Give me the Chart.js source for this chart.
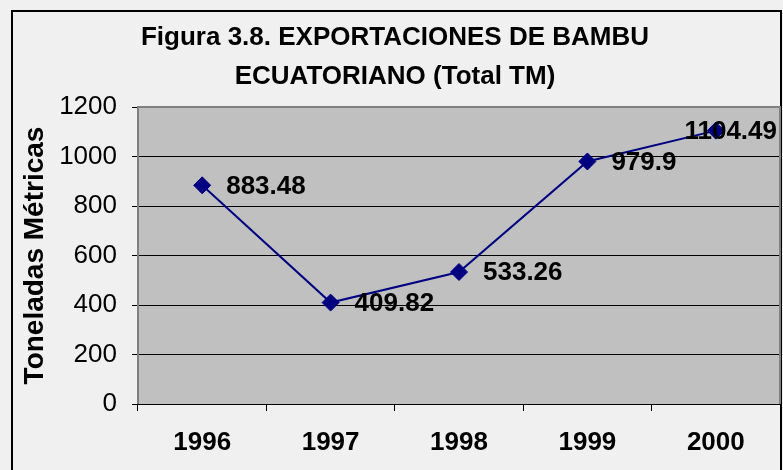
<!DOCTYPE html>
<html>
<head>
<meta charset="utf-8">
<script src="https://cdn.jsdelivr.net/npm/chart.js@4/dist/chart.umd.min.js"></script>
<style>
  html, body { margin: 0; padding: 0; background: #F0F0F0; }
  #wrap { width: 783px; height: 470px; position: relative; }
</style>
</head>
<body>
<div id="wrap"><canvas id="c" width="783" height="470"></canvas></div>
<script>
const titleLines = ['Figura 3.8. EXPORTACIONES DE BAMBU', 'ECUATORIANO (Total TM)'];
const yAxisTitle = 'Toneladas Métricas';
const years = ['1996', '1997', '1998', '1999', '2000'];
const exportsTM = [883.48, 409.82, 533.26, 979.9, 1104.49];
const yTicks = [0, 200, 400, 600, 800, 1000, 1200];

const FONT = "'Liberation Sans', Arial, sans-serif";

const bgPlugin = {
  id: 'bg',
  beforeDraw(chart) {
    const ctx = chart.ctx, a = chart.chartArea;
    ctx.save();
    ctx.fillStyle = '#F0F0F0';
    ctx.fillRect(0, 0, chart.width, chart.height);
    ctx.strokeStyle = '#000';
    ctx.lineWidth = 2;
    ctx.strokeRect(12, 11, 769, 480);
    ctx.fillStyle = '#C0C0C0';
    ctx.fillRect(a.left, a.top, a.right - a.left, a.bottom - a.top);
    ctx.restore();
  },
  beforeDatasetsDraw(chart) {
    const ctx = chart.ctx, a = chart.chartArea;
    ctx.save();
    ctx.strokeStyle = '#808080';
    ctx.lineWidth = 2;
    ctx.beginPath();
    ctx.moveTo(a.left, a.bottom);
    ctx.lineTo(a.left, a.top);
    ctx.lineTo(a.right, a.top);
    ctx.lineTo(a.right, a.bottom);
    ctx.stroke();
    ctx.strokeStyle = '#000';
    ctx.lineWidth = 1;
    ctx.beginPath();
    ctx.moveTo(a.left - 6, Math.round(a.bottom) + 0.5);
    ctx.lineTo(a.right + 1, Math.round(a.bottom) + 0.5);
    ctx.stroke();
    ctx.restore();
  }
};

const labelPlugin = {
  id: 'pointLabels',
  afterDatasetsDraw(chart) {
    const ctx = chart.ctx, a = chart.chartArea;
    const meta = chart.getDatasetMeta(0);
    ctx.save();
    ctx.font = 'bold 26px ' + FONT;
    ctx.fillStyle = '#000';
    ctx.textBaseline = 'middle';
    ctx.textAlign = 'left';
    meta.data.forEach((pt, i) => {
      const txt = String(exportsTM[i]);
      const w = ctx.measureText(txt).width;
      let x = pt.x + 24;
      if (x + w > a.right - 3) x = a.right - 3 - w;
      ctx.fillText(txt, x, pt.y + 1);
    });
    ctx.restore();
  }
};

new Chart(document.getElementById('c'), {
  type: 'line',
  data: {
    labels: years,
    datasets: [{
      data: exportsTM,
      borderColor: '#000080',
      backgroundColor: '#000080',
      borderWidth: 2,
      pointStyle: 'rectRot',
      pointRadius: 8.5,
      pointHoverRadius: 8.5,
      pointBorderWidth: 1,
      pointBorderColor: '#000080',
      pointBackgroundColor: '#000080',
      tension: 0,
      fill: false,
      clip: false
    }]
  },
  options: {
    responsive: false,
    animation: false,
    devicePixelRatio: 1,
    events: [],
    layout: { autoPadding: false, padding: { top: 0, right: 3, left: 10, bottom: 0 } },
    plugins: {
      legend: { display: false },
      tooltip: { enabled: false },
      title: {
        display: true,
        text: titleLines,
        color: '#000',
        font: { family: FONT, size: 26, weight: 'bold', lineHeight: 1.5 },
        padding: { top: 18, bottom: 11 }
      }
    },
    scales: {
      x: {
        type: 'category',
        offset: true,
        grid: { offset: true, drawOnChartArea: false, drawTicks: true, tickLength: 7, color: '#000' },
        border: { display: false },
        ticks: { color: '#000', padding: 16, font: { family: FONT, size: 26, weight: 'bold' } },
        afterFit(s) { s.height = 66; s.paddingLeft = 0; s.paddingRight = 0; }
      },
      y: {
        min: 0,
        max: 1200,
        afterBuildTicks(s) { s.ticks = yTicks.map(v => ({ value: v })); },
        grid: { color: '#000', lineWidth: 1, tickLength: 6, drawTicks: true },
        border: { display: false },
        ticks: { color: '#000', padding: 15, font: { family: FONT, size: 26 }, callback: (v) => String(v) },
        title: {
          display: true,
          text: yAxisTitle,
          color: '#000',
          font: { family: FONT, size: 28, weight: 'bold' },
          padding: { top: 8, bottom: 0 }
        },
        afterFit(s) { s.width = 128; s.paddingTop = 0; s.paddingBottom = 0; }
      }
    }
  },
  plugins: [bgPlugin, labelPlugin]
});
</script>
</body>
</html>
